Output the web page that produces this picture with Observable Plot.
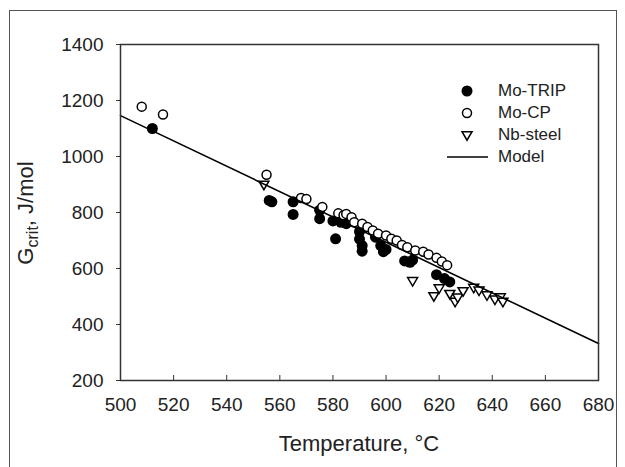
<!DOCTYPE html>
<html><head><meta charset="utf-8">
<script src="https://cdn.jsdelivr.net/npm/d3@7"></script>
<script src="https://cdn.jsdelivr.net/npm/@observablehq/plot@0.6"></script>
<style>
body{margin:0;background:#fff;font-family:"Liberation Sans",Arial,sans-serif;}
#wrap{position:relative;width:625px;height:467px;overflow:hidden;background:#fff;}
#border{position:absolute;left:9px;top:10px;width:608px;height:480px;border:1.5px solid #555;box-sizing:border-box;}
#chart{position:absolute;left:0;top:0;}
#legend{position:absolute;left:444px;top:80px;font-size:17px;color:#222;line-height:22px;}
#legend .row{display:flex;align-items:center;height:22px;}
#legend svg{width:48px;height:22px;flex:none;margin-right:6px;}
</style>
</head><body>
<div id="wrap"><div id="border"></div><div id="chart"></div><div id="legend"></div></div>
<script>
// ---- data ----
const moTripT = [512,556,557,565,565,575,575,580,581,583,585,585,590,590,591,591,596,598,599,600,607,609,610,619,622,624];
const moTripG = [1100,843,838,838,793,808,778,770,706,765,771,760,732,705,682,662,712,682,660,668,627,622,630,578,564,552];
const moCPT = [508,516,555,568,570,576,582,584,585,587,588,591,593,595,597,600,602,604,606,608,611,614,616,619,621,623];
const moCPG = [1178,1150,935,852,848,820,797,790,795,783,765,760,748,736,724,718,706,700,684,676,664,660,650,638,625,612];
const nbT = [554,610,618,620,624,626,627,629,633,635,638,641,643,644];
const nbG = [900,556,502,530,510,482,497,520,532,522,505,490,498,482];
const modelT = [500,680];
const modelG = [1146,332];
const xTicks = [500,520,540,560,580,600,620,640,660,680];
const yTicks = [200,400,600,800,1000,1200,1400];
const seriesNames = ["Mo-TRIP","Mo-CP","Nb-steel","Model"];

const zip = (a,b) => a.map((v,i)=>({x:v,y:b[i]}));
const moTrip = zip(moTripT, moTripG);
const moCP = zip(moCPT, moCPG);
const nb = zip(nbT, nbG);
const model = zip(modelT, modelG);

const triDown = {draw(ctx, size){ const h = Math.sqrt(size/Math.PI); ctx.moveTo(-h,-0.65*h); ctx.lineTo(h,-0.65*h); ctx.lineTo(0,1.05*h); ctx.closePath(); }};

const chart = Plot.plot({
  width:625, height:467,
  marginLeft:120, marginRight:27, marginTop:44, marginBottom:87,
  style:{fontFamily:"'Liberation Sans', Arial, sans-serif", fontSize:"19px", color:"#222", background:"transparent", overflow:"visible"},
  x:{domain:[500,680]},
  y:{domain:[200,1400]},
  marks:[
    Plot.axisX({ticks:xTicks, tickFormat:d3.format("d"), tickSize:-5, tickPadding:22, fontSize:19, label:null, stroke:"#333"}),
    Plot.axisY({ticks:yTicks, tickFormat:d3.format("d"), tickSize:4, tickPadding:13, fontSize:19, label:null, stroke:"#333"}),
    Plot.dot(moTrip, {x:"x", y:"y", r:5.5, fill:"#000"}),
    Plot.dot(moCP, {x:"x", y:"y", r:4.5, stroke:"#000", fill:"#fff", strokeWidth:1.5}),
    Plot.dot(nb, {x:"x", y:"y", symbol:triDown, r:5, stroke:"#000", fill:"#fff", strokeWidth:1.5}),
    Plot.line(model, {x:"x", y:"y", stroke:"#000", strokeWidth:1.6}),
    Plot.frame({stroke:"#333", strokeWidth:1.5})
  ]
});
document.getElementById("chart").appendChild(chart);

const svg = d3.select(chart);
svg.append("text")
  .attr("x", 359).attr("y", 451)
  .attr("text-anchor","middle")
  .attr("font-size", 22).attr("fill","#222")
  .text("Temperature, °C");
const yl = svg.append("text")
  .attr("transform","translate(33,213) rotate(-90)")
  .attr("text-anchor","middle")
  .attr("font-size", 22).attr("fill","#222");
yl.append("tspan").text("G");
yl.append("tspan").attr("font-size",16).attr("dy",5).text("crit");
yl.append("tspan").attr("dy",-5).text(", J/mol");

// legend
const leg = d3.select("#legend");
seriesNames.forEach((name,i)=>{
  const row = leg.append("div").attr("class","row");
  const s = row.append("svg");
  if(i===0) s.append("circle").attr("cx",23).attr("cy",11).attr("r",5.5).attr("fill","#000");
  if(i===1) s.append("circle").attr("cx",23).attr("cy",11).attr("r",4.5).attr("fill","#fff").attr("stroke","#000").attr("stroke-width",1.5);
  if(i===2) s.append("path").attr("transform","translate(23,11)").attr("d", d3.symbol(triDown, Math.PI*25)()).attr("fill","#fff").attr("stroke","#000").attr("stroke-width",1.5);
  if(i===3) s.append("line").attr("x1",3).attr("x2",44).attr("y1",11).attr("y2",11).attr("stroke","#000").attr("stroke-width",1.6);
  row.append("span").text(name);
});
</script>
</body></html>
